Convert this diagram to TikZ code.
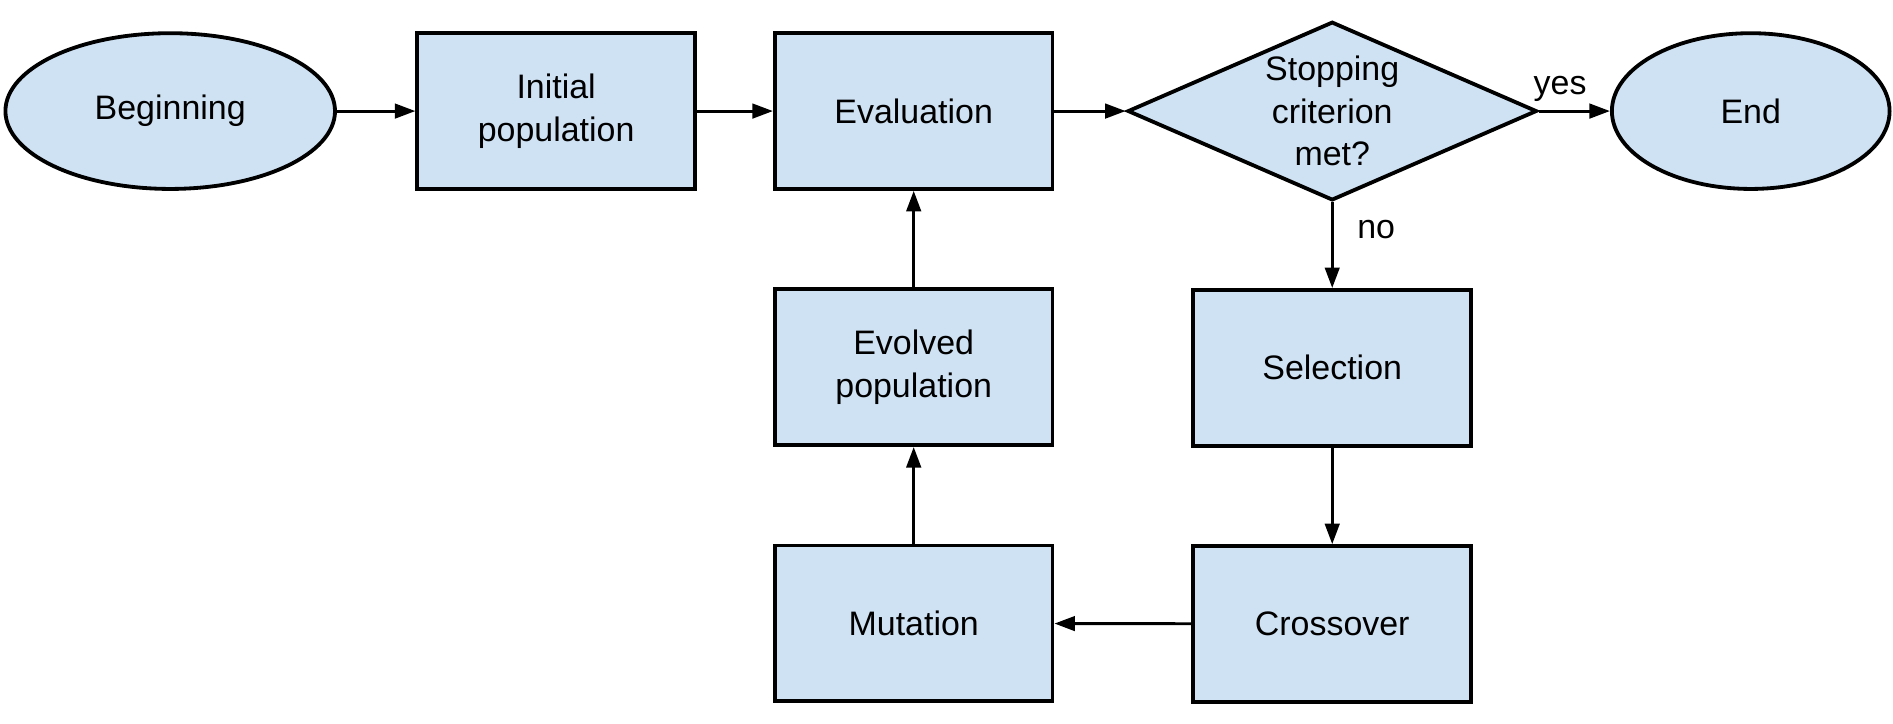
\documentclass[tikz,border=0pt]{standalone}
\usepackage{fontspec}
\setmainfont{Liberation Sans}
\usepackage{tikz}
\usetikzlibrary{shapes,shapes.geometric,arrows.meta,positioning}
\definecolor{boxblue}{HTML}{CFE2F3}
\tikzset{
    -{Triangle[length=0.34cm,width=0.24cm]},auto,node distance =1.3 cm and 1.3 cm,
    font=\fontsize{16}{20}\selectfont,
    state/.style ={ellipse, draw, fill=boxblue, line width=1.8pt, minimum width=5.46cm, minimum height=2.58cm},
    box/.style = {rectangle, draw, fill=boxblue, line width=1.8pt, align=center, minimum width=4.6cm, minimum height=2.58cm},
    test/.style = {diamond, draw, fill=boxblue, line width=1.8pt, align=center, inner sep=0pt, minimum width=6.78cm, minimum height=2.96cm, aspect=2.28},
    el/.style = {inner sep=4pt}
}
\begin{document}
\begin{tikzpicture}[line width=1.4pt]
	\useasboundingbox (0,0) rectangle (31.36,-11.98);
    \node[state] (1) at (2.82,-1.84) {Beginning};
	\node[box] (2) [right = 1.3cm of 1] {Initial\\population};
	\node[box] (3) [right = 1.26cm of 2] {Evaluation};
	\node[test] (4) [right = 1.18cm of 3] {Stopping\\criterion\\met?};
	\node[state, minimum width=4.6cm] (5) [right = 1.18cm of 4] {End};
	\node[box] (6) [below = 1.42cm of 4] {Selection};
	\node[box] (7) [below = 1.6cm of 6] {Crossover};
	\node[box] (8) [below = 1.6cm of 3] {Evolved\\population};
	\node[box] (9) [below = 1.6cm of 8] {Mutation};

	\path (1) edge (2);
	\path (2) edge (3);
	\path (3) edge (4);
	\path (4) edge node[el, above, pos=0.3] {yes} (5);
	\path (4) edge node[el, right, pos=0.32, xshift=0.25cm] {no} (6);
	\path (6) edge (7);
	\path (7) edge (9);
	\path (9) edge (8);
	\path (8) edge (3);
	
\end{tikzpicture}
\end{document}
